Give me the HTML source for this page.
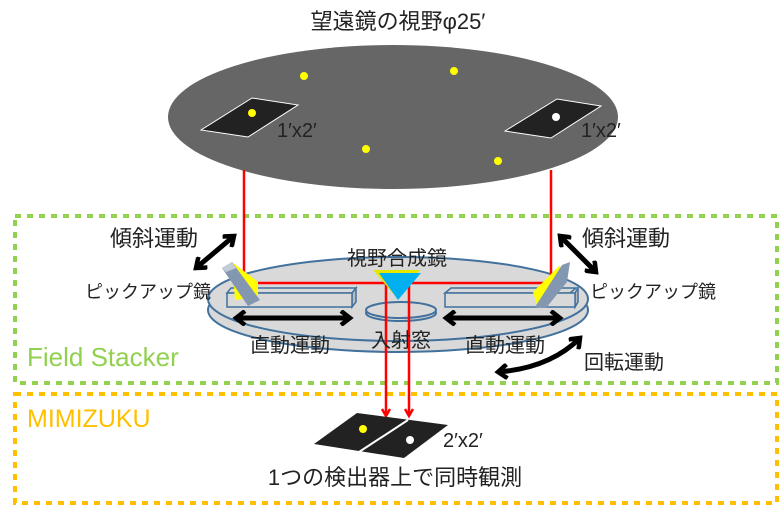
<!DOCTYPE html>
<html><head><meta charset="utf-8"><style>
body{margin:0;background:#fff}
svg{display:block}
text{font-family:"Liberation Sans","Noto Sans CJK JP",sans-serif;fill:#222}
</style></head><body>
<svg width="782" height="507" viewBox="0 0 782 507" xmlns="http://www.w3.org/2000/svg">
<defs>
<marker id="ar" markerWidth="10" markerHeight="10" refX="8" refY="5" orient="auto" markerUnits="userSpaceOnUse"><path d="M1,1 L8,5 L1,9" fill="none" stroke="red" stroke-width="2.5"/></marker>
<marker id="bk" markerWidth="16" markerHeight="16" refX="11" refY="8" orient="auto-start-reverse" markerUnits="userSpaceOnUse"><path d="M2,1 L11,8 L2,15" fill="none" stroke="#000" stroke-width="4.5"/></marker>
</defs>
<text x="398" y="29" font-size="22" text-anchor="middle">望遠鏡の視野φ25′</text>
<ellipse cx="393" cy="117" rx="225" ry="72" fill="#666"/>
<polygon points="201,130 252,98 298,105 248,137" fill="#222" stroke="#fff" stroke-width="1"/>
<polygon points="505,131 557,99 601,106 551,138" fill="#222" stroke="#fff" stroke-width="1"/>
<circle cx="252" cy="113" r="4" fill="#ff0"/>
<circle cx="556" cy="117" r="4" fill="#fff"/>
<circle cx="304" cy="76" r="4" fill="#ff0"/>
<circle cx="454" cy="71" r="4" fill="#ff0"/>
<circle cx="366" cy="149" r="4" fill="#ff0"/>
<circle cx="498" cy="161" r="4" fill="#ff0"/>
<text x="277" y="137" font-size="20">1′x2′</text>
<text x="581" y="137" font-size="20">1′x2′</text>

<rect x="15" y="216" width="762" height="167" fill="none" stroke="#92d050" stroke-width="4" stroke-dasharray="6,6"/>
<rect x="15" y="394" width="762" height="109" fill="none" stroke="#ffc000" stroke-width="4" stroke-dasharray="6,6"/>
<text x="27" y="366" font-size="26" style="fill:#92d050">Field Stacker</text>
<text x="27" y="427" font-size="25" style="fill:#ffc000">MIMIZUKU</text>

<ellipse cx="398" cy="310" rx="190" ry="42" fill="#d9d9d9" stroke="#41719c" stroke-width="2"/>
<ellipse cx="398" cy="299" rx="190" ry="42" fill="#d9d9d9" stroke="#41719c" stroke-width="2"/>
<ellipse cx="401" cy="313" rx="35" ry="8" fill="#d9d9d9" stroke="#41719c" stroke-width="2"/>
<ellipse cx="401" cy="310" rx="35" ry="8" fill="#d9d9d9" stroke="#41719c" stroke-width="2"/>
<polygon points="227,293 352,293 356,288 231,288" fill="#d9d9d9" stroke="#41719c" stroke-width="1.5"/>
<polygon points="352,293 356,288 356,302 352,307" fill="#bbb" stroke="#41719c" stroke-width="1.5"/>
<rect x="227" y="293" width="125" height="14" fill="#d9d9d9" stroke="#41719c" stroke-width="1.5"/>
<polygon points="445,293 570,293 576,288 451,288" fill="#d9d9d9" stroke="#41719c" stroke-width="1.5"/>
<polygon points="575,293 578,288 578,302 575,307" fill="#bbb" stroke="#41719c" stroke-width="1.5"/>
<rect x="445" y="293" width="130" height="14" fill="#d9d9d9" stroke="#41719c" stroke-width="1.5"/>

<polyline points="244,170 244,283 386,283 386,416" fill="none" stroke="red" stroke-width="2.5" marker-end="url(#ar)"/>
<polyline points="551,170 551,283 409,283 409,416" fill="none" stroke="red" stroke-width="2.5" marker-end="url(#ar)"/>

<polygon points="373,270 420,270 397,298" fill="#e6e600"/>
<polygon points="379,273 421,273 398,300" fill="#00b0f0"/>

<polygon points="232,262 258,282 258,297 235,300" fill="#ff0"/>
<polygon points="222,268 232,262 260,300 248,306" fill="#8497b0"/>
<polygon points="222,268 232,262 236,268 226,272" fill="#c0ccd8"/>
<polygon points="533,292 560,265 562,284 537,305" fill="#ff0"/>
<polygon points="535,307 562,265 570,262 567,282 546,308" fill="#8497b0"/>

<line x1="236" y1="318" x2="350" y2="318" stroke="#000" stroke-width="5" marker-start="url(#bk)" marker-end="url(#bk)"/>
<line x1="446" y1="318" x2="560" y2="318" stroke="#000" stroke-width="5" marker-start="url(#bk)" marker-end="url(#bk)"/>
<line x1="196" y1="268" x2="234" y2="236" stroke="#000" stroke-width="5" marker-start="url(#bk)" marker-end="url(#bk)"/>
<line x1="560" y1="236" x2="596" y2="272" stroke="#000" stroke-width="5" marker-start="url(#bk)" marker-end="url(#bk)"/>
<path d="M498,372 Q550,368 580,338" fill="none" stroke="#000" stroke-width="5" marker-start="url(#bk)" marker-end="url(#bk)"/>

<text x="397" y="265" font-size="20" text-anchor="middle">視野合成鏡</text>
<text x="401" y="347" font-size="20" text-anchor="middle">入射窓</text>
<text x="290" y="352" font-size="20" text-anchor="middle">直動運動</text>
<text x="505" y="352" font-size="20" text-anchor="middle">直動運動</text>
<text x="110" y="246" font-size="22">傾斜運動</text>
<text x="85" y="298" font-size="18">ピックアップ鏡</text>
<text x="582" y="246" font-size="22">傾斜運動</text>
<text x="590" y="298" font-size="18">ピックアップ鏡</text>
<text x="584" y="369" font-size="20">回転運動</text>

<polygon points="314,444 357,413 448,425 404,458" fill="#222"/>
<line x1="408" y1="420" x2="359" y2="452" stroke="#fff" stroke-width="2"/>
<circle cx="363" cy="429" r="4" fill="#ff0"/>
<circle cx="410" cy="440" r="4" fill="#fff"/>
<text x="443" y="447" font-size="20">2′x2′</text>
<text x="395" y="485" font-size="22" text-anchor="middle">1つの検出器上で同時観測</text>
</svg>
</body></html>
